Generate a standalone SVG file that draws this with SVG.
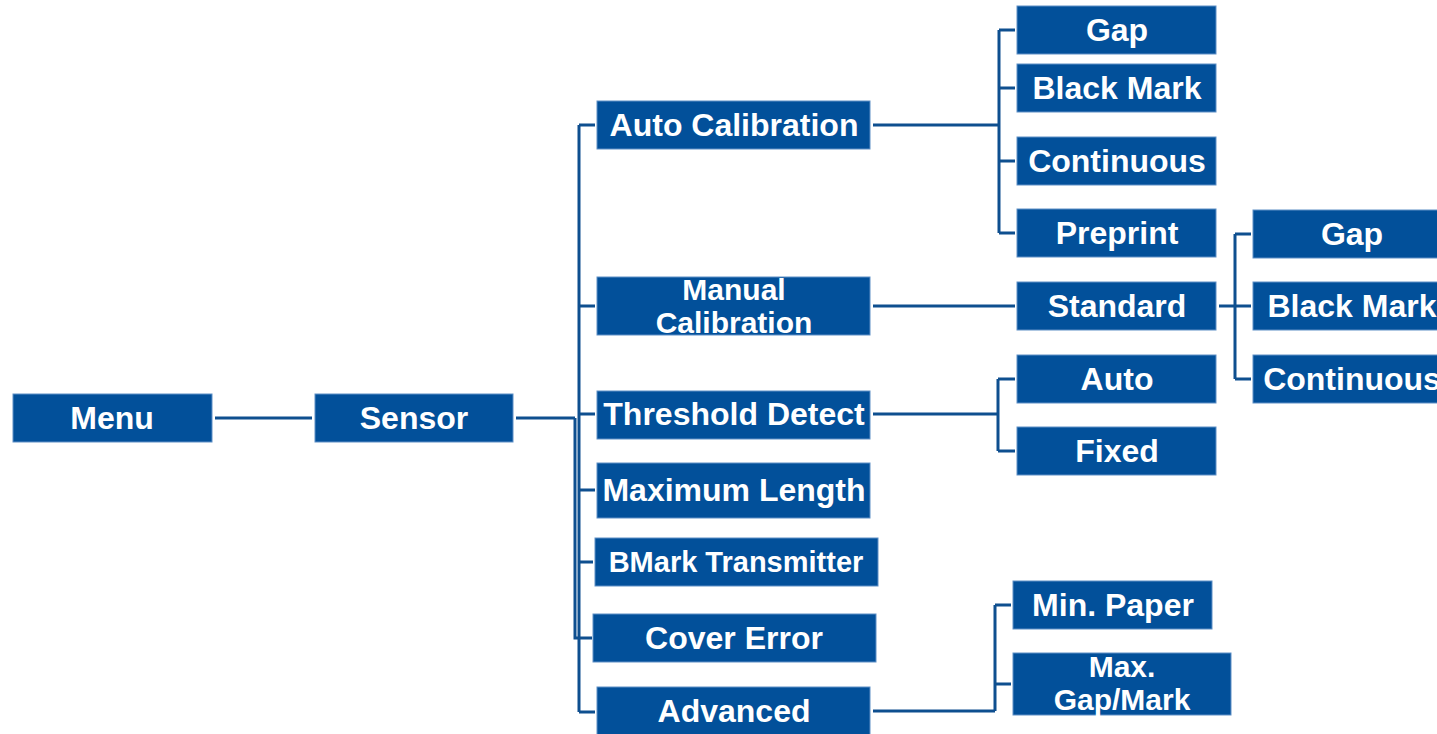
<svg xmlns="http://www.w3.org/2000/svg" width="1437" height="734" viewBox="0 0 1437 734">
<style>
.n rect{fill:#02509A;stroke:#5E8FC6;stroke-width:1}
.n text{fill:#fff;font-family:"Liberation Sans",Arial,sans-serif;font-weight:bold;font-size:32px;text-anchor:middle}
.n text.t2{font-size:30px}
#connectors path{fill:none;stroke:#0E4F8F;stroke-width:3}
</style>
<rect width="1437" height="734" fill="#fff"/>
<g id="connectors">
<path d="M215 418H312"/>
<path d="M516 418H575"/>
<path d="M579 125V712M579 125H595M579 306H595M579 414H595M579 490H595M579 562H593M579 712H595"/>
<path d="M575 418V638H592"/>
<path d="M873 125H999M999 30V233M999 30H1015M999 88H1015M999 161H1015M999 233H1015"/>
<path d="M873 306H1015"/>
<path d="M873 414H998M998 379V451M998 379H1015M998 451H1015"/>
<path d="M873 711H995M995 605V711M995 605H1011M995 684H1011"/>
<path d="M1219 306H1251M1235 234V379M1235 234H1251M1235 379H1251"/>
</g>
<g id="menu" class="n"><rect x="13" y="394" width="199" height="48"/><text x="112" y="429">Menu</text></g>
<g id="sensor" class="n"><rect x="315" y="394" width="198" height="48"/><text x="414" y="429">Sensor</text></g>
<g id="auto-calibration" class="n"><rect x="597" y="101" width="273" height="48"/><text x="734" y="136">Auto Calibration</text></g>
<g id="manual-calibration" class="n"><rect x="597" y="277" width="273" height="58"/><text class="t2" x="734" y="300">Manual</text><text class="t2" x="734" y="333">Calibration</text></g>
<g id="threshold-detect" class="n"><rect x="597" y="391" width="273" height="48"/><text x="734" y="425">Threshold Detect</text></g>
<g id="maximum-length" class="n"><rect x="597" y="463" width="273" height="55"/><text x="734" y="501">Maximum Length</text></g>
<g id="bmark-transmitter" class="n"><rect x="595" y="538" width="283" height="48"/><text x="736" y="572" style="font-size:29px">BMark Transmitter</text></g>
<g id="cover-error" class="n"><rect x="593" y="614" width="283" height="48"/><text x="734" y="649">Cover Error</text></g>
<g id="advanced" class="n"><rect x="597" y="687" width="273" height="48"/><text x="734" y="722">Advanced</text></g>
<g id="ac-gap" class="n"><rect x="1017" y="6" width="199" height="48"/><text x="1117" y="41">Gap</text></g>
<g id="ac-black-mark" class="n"><rect x="1017" y="64" width="199" height="48"/><text x="1117" y="99">Black Mark</text></g>
<g id="ac-continuous" class="n"><rect x="1017" y="137" width="199" height="48"/><text x="1117" y="172">Continuous</text></g>
<g id="ac-preprint" class="n"><rect x="1017" y="209" width="199" height="48"/><text x="1117" y="244">Preprint</text></g>
<g id="standard" class="n"><rect x="1017" y="282" width="199" height="48"/><text x="1117" y="317">Standard</text></g>
<g id="td-auto" class="n"><rect x="1017" y="355" width="199" height="48"/><text x="1117" y="390">Auto</text></g>
<g id="td-fixed" class="n"><rect x="1017" y="427" width="199" height="48"/><text x="1117" y="462">Fixed</text></g>
<g id="min-paper" class="n"><rect x="1013" y="581" width="199" height="48"/><text x="1113" y="616">Min. Paper</text></g>
<g id="max-gap-mark" class="n"><rect x="1013" y="653" width="218" height="62"/><text class="t2" x="1122" y="677">Max.</text><text class="t2" x="1122" y="710">Gap/Mark</text></g>
<g id="std-gap" class="n"><rect x="1253" y="210" width="198" height="48"/><text x="1352" y="245">Gap</text></g>
<g id="std-black-mark" class="n"><rect x="1253" y="282" width="198" height="48"/><text x="1352" y="317">Black Mark</text></g>
<g id="std-continuous" class="n"><rect x="1253" y="355" width="198" height="48"/><text x="1352" y="390">Continuous</text></g>
</svg>
